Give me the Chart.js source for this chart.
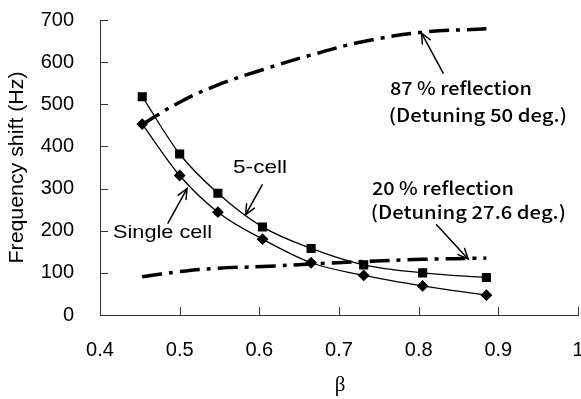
<!DOCTYPE html>
<html><head><meta charset="utf-8">
<script src="https://cdn.jsdelivr.net/npm/chart.js@4.4.1/dist/chart.umd.min.js"></script>
<style>html,body{margin:0;padding:0;background:#fff}#wrap{width:581px;height:399px;position:relative}</style>
</head><body><div id="wrap"><canvas id="c"></canvas></div>
<script>
// ---- data ----
const beta = [0.453, 0.500, 0.548, 0.604, 0.665, 0.731, 0.805, 0.885];
const fiveCell = [518, 382, 289, 209, 158, 119, 100, 89];
const singleCell = [453, 331, 244, 180, 124, 94, 69, 47];
const refl87 = [452, 505, 546, 582, 617, 649, 671, 679];
const refl20 = [91, 103, 111, 115, 121, 127, 132, 135];
const xTickValues = [0.4, 0.5, 0.6, 0.7, 0.8, 0.9, 1];
const yTickValues = [0, 100, 200, 300, 400, 500, 600, 700];
const yTitle = 'Frequency shift (Hz)';
const xTitle = 'β';

const labels = [
  {text: '5-cell', x: 0.567, y: 350, kind: 'sans', w: 54},
  {text: 'Single cell', x: 0.4163, y: 196, kind: 'sans', w: 99},
  {text: '87 % reflection', x: 0.7639, y: 538, kind: 'jp', w: 142},
  {text: '(Detuning 50 deg.)', x: 0.7626, y: 475, kind: 'jp', w: 178},
  {text: '20 % reflection', x: 0.7413, y: 300, kind: 'jp', w: 142},
  {text: '(Detuning 27.6 deg.)', x: 0.7400, y: 243, kind: 'jp', w: 195}
];
const arrows = [
  {x1: 0.4853, y1: 218, x2: 0.5092, y2: 300},
  {x1: 0.6036, y1: 309, x2: 0.5828, y2: 238},
  {x1: 0.8308, y1: 574, x2: 0.8036, y2: 669},
  {x1: 0.8225, y1: 214, x2: 0.8621, y2: 133}
];

const pts = ys => beta.map((b, i) => ({x: b, y: ys[i]}));

const extras = {
  id: 'extras',
  afterDraw(chart) {
    const ctx = chart.ctx, xs = chart.scales.x, ys = chart.scales.y, ca = chart.chartArea;
    ctx.save();
    ctx.strokeStyle = '#333'; ctx.lineWidth = 1;
    yTickValues.forEach(v => {
      const py = Math.round(ys.getPixelForValue(v)) + 0.5;
      ctx.beginPath(); ctx.moveTo(ca.left, py); ctx.lineTo(ca.left + 8, py); ctx.stroke();
    });
    xTickValues.forEach(v => {
      const px = Math.round(xs.getPixelForValue(v)) + 0.5;
      ctx.beginPath(); ctx.moveTo(px, ca.bottom); ctx.lineTo(px, ca.bottom - 8); ctx.stroke();
    });
    ctx.fillStyle = '#000';
    ctx.save();
    ctx.translate(ca.left - 83, (ca.top + ca.bottom) / 2);
    ctx.rotate(-Math.PI / 2);
    ctx.font = '20px "Liberation Sans", Arial, sans-serif';
    ctx.textAlign = 'center'; ctx.textBaseline = 'middle';
    const tw = ctx.measureText(yTitle).width;
    ctx.scale(192 / tw, 1);
    ctx.fillText(yTitle, 0, 0);
    ctx.restore();
    ctx.font = '21px "Liberation Serif", "DejaVu Serif", serif';
    ctx.textAlign = 'center'; ctx.textBaseline = 'middle';
    ctx.fillText(xTitle, (ca.left + ca.right) / 2 + 1, 385);
    labels.forEach(l => {
      const px = xs.getPixelForValue(l.x), py = ys.getPixelForValue(l.y);
      ctx.font = l.kind === 'sans' ? '19px "Liberation Sans", Arial, sans-serif'
                                   : '500 18px "Noto Sans CJK JP", sans-serif';
      ctx.textAlign = 'left'; ctx.textBaseline = 'middle';
      const m = ctx.measureText(l.text).width;
      ctx.save();
      ctx.translate(px, py);
      ctx.scale(l.w / m, 1);
      ctx.fillText(l.text, 0, 0);
      ctx.restore();
    });
    ctx.strokeStyle = '#000'; ctx.lineWidth = 1.5; ctx.lineCap = 'round';
    arrows.forEach(a => {
      const x1 = xs.getPixelForValue(a.x1), y1 = ys.getPixelForValue(a.y1);
      const x2 = xs.getPixelForValue(a.x2), y2 = ys.getPixelForValue(a.y2);
      const ang = Math.atan2(y2 - y1, x2 - x1), L = 11, h = 0.42;
      ctx.beginPath(); ctx.moveTo(x1, y1); ctx.lineTo(x2, y2); ctx.stroke();
      ctx.beginPath();
      ctx.moveTo(x2 - L * Math.cos(ang - h), y2 - L * Math.sin(ang - h));
      ctx.lineTo(x2, y2);
      ctx.lineTo(x2 - L * Math.cos(ang + h), y2 - L * Math.sin(ang + h));
      ctx.stroke();
    });
    ctx.restore();
  }
};

new Chart(document.getElementById('c'), {
  type: 'line',
  data: {
    datasets: [
      {label: '87 % reflection', data: pts(refl87), borderColor: '#000', borderWidth: 3.5,
       borderDash: [20, 7, 4, 7], pointRadius: 0, tension: 0.4, fill: false},
      {label: '20 % reflection', data: pts(refl20), borderColor: '#000', borderWidth: 3.5,
       borderDash: [20, 7, 4, 7], pointRadius: 0, tension: 0.4, fill: false},
      {label: '5-cell', data: pts(fiveCell), borderColor: '#000', borderWidth: 1.3,
       pointStyle: 'rect', pointRadius: 5.5, pointBackgroundColor: '#000', pointBorderColor: '#000',
       cubicInterpolationMode: 'monotone', fill: false},
      {label: 'Single cell', data: pts(singleCell), borderColor: '#000', borderWidth: 1.3,
       pointStyle: 'rectRot', pointRadius: 5, pointBackgroundColor: '#000', pointBorderColor: '#000',
       cubicInterpolationMode: 'monotone', fill: false}
    ]
  },
  options: {
    responsive: true, maintainAspectRatio: false, animation: false,
    layout: {autoPadding: false, padding: {left: 0, right: 3, top: 20, bottom: 0}},
    plugins: {legend: {display: false}, tooltip: {enabled: false}},
    scales: {
      x: {
        type: 'linear', min: 0.4, max: 1,
        grid: {display: true, drawOnChartArea: false, drawTicks: false},
        border: {display: true, color: '#333', width: 1},
        ticks: {stepSize: 0.1, padding: 23, color: '#000',
          font: {family: '"Liberation Sans", Arial, sans-serif', size: 20},
          callback: v => String(Math.round(v * 10) / 10)},
        afterFit: s => { s.height = 84; s.paddingLeft = 0; s.paddingRight = 0; }
      },
      y: {
        min: 0, max: 700,
        grid: {display: true, drawOnChartArea: false, drawTicks: false},
        border: {display: true, color: '#333', width: 1},
        ticks: {stepSize: 100, padding: 26, color: '#000',
          font: {family: '"Liberation Sans", Arial, sans-serif', size: 20}},
        afterFit: s => { s.width = 100; s.paddingTop = 0; s.paddingBottom = 0; }
      }
    }
  },
  plugins: [extras]
});
</script>
</body></html>
